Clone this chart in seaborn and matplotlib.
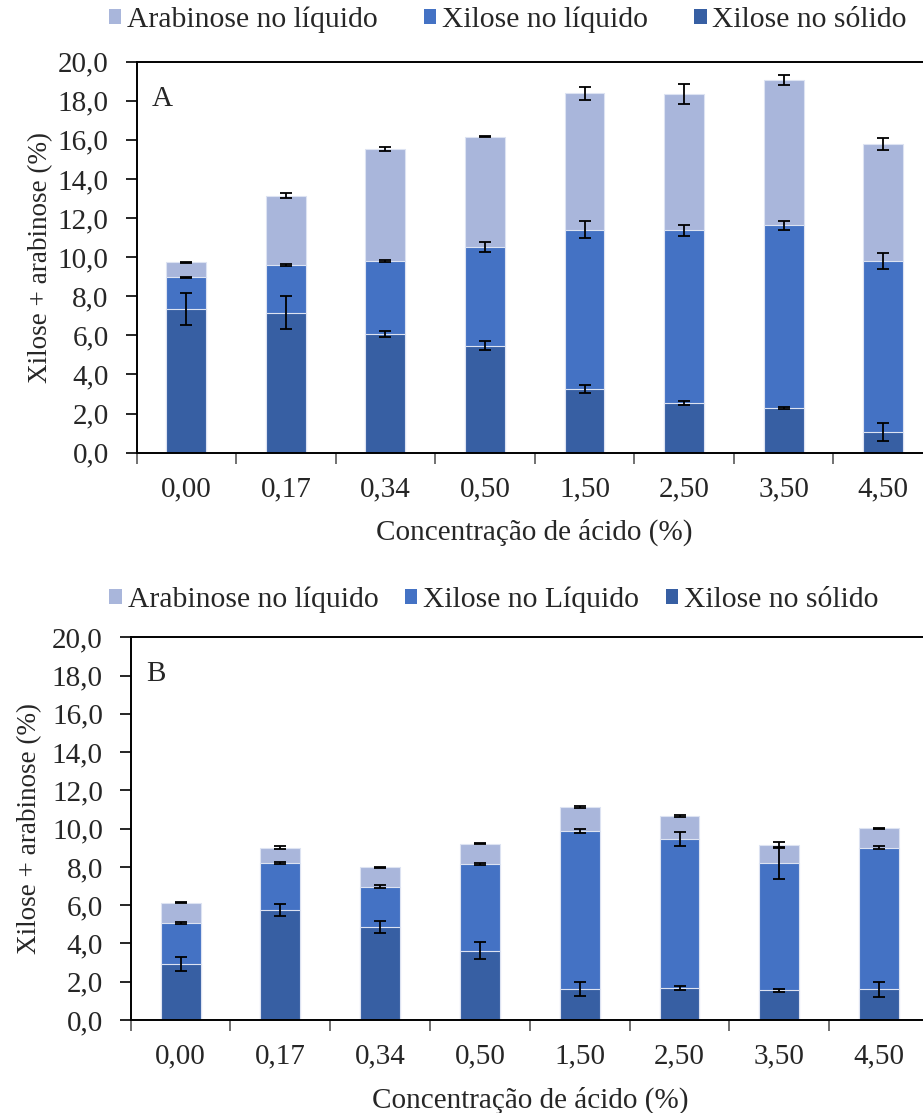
import numpy as np
import matplotlib
matplotlib.use("Agg")
import matplotlib.pyplot as plt
from matplotlib.patches import Patch
from matplotlib.ticker import FuncFormatter, FixedLocator
import seaborn as sns

# Acid concentrations (%) on the x axis
categories = ["0,00", "0,17", "0,34", "0,50", "1,50", "2,50", "3,50", "4,50"]

# Panel A: segment amounts (%) and standard deviations
a_xyl_solid = [7.33, 7.16, 6.07, 5.48, 3.25, 2.53, 2.28, 1.05]
a_xyl_liquid = [1.63, 2.43, 3.73, 5.03, 8.16, 8.85, 9.35, 8.75]
a_arab_liquid = [0.77, 3.56, 5.74, 5.65, 6.97, 6.97, 7.43, 6.00]
a_err_solid = [0.82, 0.83, 0.15, 0.24, 0.20, 0.09, 0.03, 0.46]
a_err_liquid = [0.05, 0.05, 0.03, 0.25, 0.44, 0.29, 0.24, 0.41]
a_err_arab = [0.03, 0.14, 0.09, 0.03, 0.33, 0.50, 0.27, 0.30]

# Panel B: segment amounts (%) and standard deviations
b_xyl_solid = [2.91, 5.75, 4.85, 3.62, 1.60, 1.69, 1.55, 1.60]
b_xyl_liquid = [2.16, 2.46, 2.12, 4.53, 8.28, 7.77, 6.66, 7.39]
b_arab_liquid = [1.05, 0.78, 1.01, 1.07, 1.25, 1.20, 0.95, 1.03]
b_err_solid = [0.37, 0.33, 0.32, 0.46, 0.36, 0.10, 0.07, 0.38]
b_err_liquid = [0.03, 0.06, 0.09, 0.03, 0.11, 0.36, 0.85, 0.08]
b_err_arab = [0.03, 0.08, 0.03, 0.03, 0.03, 0.07, 0.15, 0.03]

legend_a = ["Arabinose no líquido", "Xilose no líquido", "Xilose no sólido"]
legend_b = ["Arabinose no líquido", "Xilose no Líquido", "Xilose no sólido"]

C_ARAB = "#A9B6DB"
C_LIQ = "#4472C4"
C_SOLID = "#375FA3"

FS = 21

sns.set_theme(style="white")
plt.rcParams["font.family"] = ["Liberation Serif", "DejaVu Serif"]
plt.rcParams["font.size"] = FS

fig = plt.figure(figsize=(9.23, 11.13), dpi=100)


def draw_panel(ax, solid, liquid, arab, e_solid, e_liq, e_arab, letter, ylabelpad):
    solid = np.array(solid)
    top_liq = solid + np.array(liquid)
    top_arab = top_liq + np.array(arab)
    bar_kw = dict(width=0.4, saturation=1, errorbar=None, ax=ax,
                  edgecolor="#dde3f2", linewidth=0.8)
    # stacked look: draw cumulative totals from the top layer down
    sns.barplot(x=categories, y=top_arab, color=C_ARAB, **bar_kw)
    sns.barplot(x=categories, y=top_liq, color=C_LIQ, **bar_kw)
    sns.barplot(x=categories, y=solid, color=C_SOLID, **bar_kw)
    xs = np.arange(len(categories))
    for yv, ev in ((solid, e_solid), (top_liq, e_liq), (top_arab, e_arab)):
        ax.errorbar(xs, yv, yerr=ev, fmt="none", ecolor="black",
                    elinewidth=1.3, capsize=4.3, capthick=1.3, zorder=5)
    ax.set_xlim(-0.5, len(categories) - 0.5)
    ax.set_ylim(0, 20)
    ax.yaxis.set_major_locator(FixedLocator(np.arange(0, 20.1, 2)))
    ax.yaxis.set_major_formatter(FuncFormatter(lambda v, p: f"{v:.1f}".replace(".", ",")))
    ax.xaxis.set_minor_locator(FixedLocator(np.arange(-0.5, len(categories), 1.0)))
    ax.tick_params(axis="x", which="major", length=0, pad=17, labelsize=FS)
    ax.tick_params(axis="x", which="minor", direction="out", length=8,
                   width=1.2, color="#595959", bottom=True)
    ax.tick_params(axis="y", direction="out", length=8, width=1.2,
                   color="black", left=True, labelsize=FS, pad=12)
    for s in ax.spines.values():
        s.set_color("black")
        s.set_linewidth(1.4)
    ax.set_xlabel("Concentração de ácido (%)", fontsize=FS, labelpad=12)
    ax.set_ylabel("Xilose + arabinose (%)", fontsize=19.5, labelpad=ylabelpad)
    ax.text(0.019, 0.905, letter, transform=ax.transAxes, fontsize=FS,
            va="center", ha="left")


ax_a = fig.add_axes([0.1479, 0.5933, 0.8629, 0.3513])
draw_panel(ax_a, a_xyl_solid, a_xyl_liquid, a_arab_liquid,
           a_err_solid, a_err_liquid, a_err_arab, "A", 3)

ax_b = fig.add_axes([0.1416, 0.0836, 0.8649, 0.3438])
draw_panel(ax_b, b_xyl_solid, b_xyl_liquid, b_arab_liquid,
           b_err_solid, b_err_liquid, b_err_arab, "B", 7)


def add_legend(labels, center, colspacing):
    handles = [Patch(facecolor=c, edgecolor="none") for c in (C_ARAB, C_LIQ, C_SOLID)]
    fig.legend(handles, labels, loc="center", bbox_to_anchor=center, ncol=3,
               frameon=False, fontsize=21.3, handlelength=0.42, handleheight=0.42,
               handletextpad=0.2, columnspacing=colspacing, borderaxespad=0)


add_legend(legend_a, (508 / 923, 1 - 20 / 1113), 1.55)
add_legend(legend_b, (494 / 923, 1 - 600 / 1113), 0.9)

fig.savefig("out.png", dpi=100)
